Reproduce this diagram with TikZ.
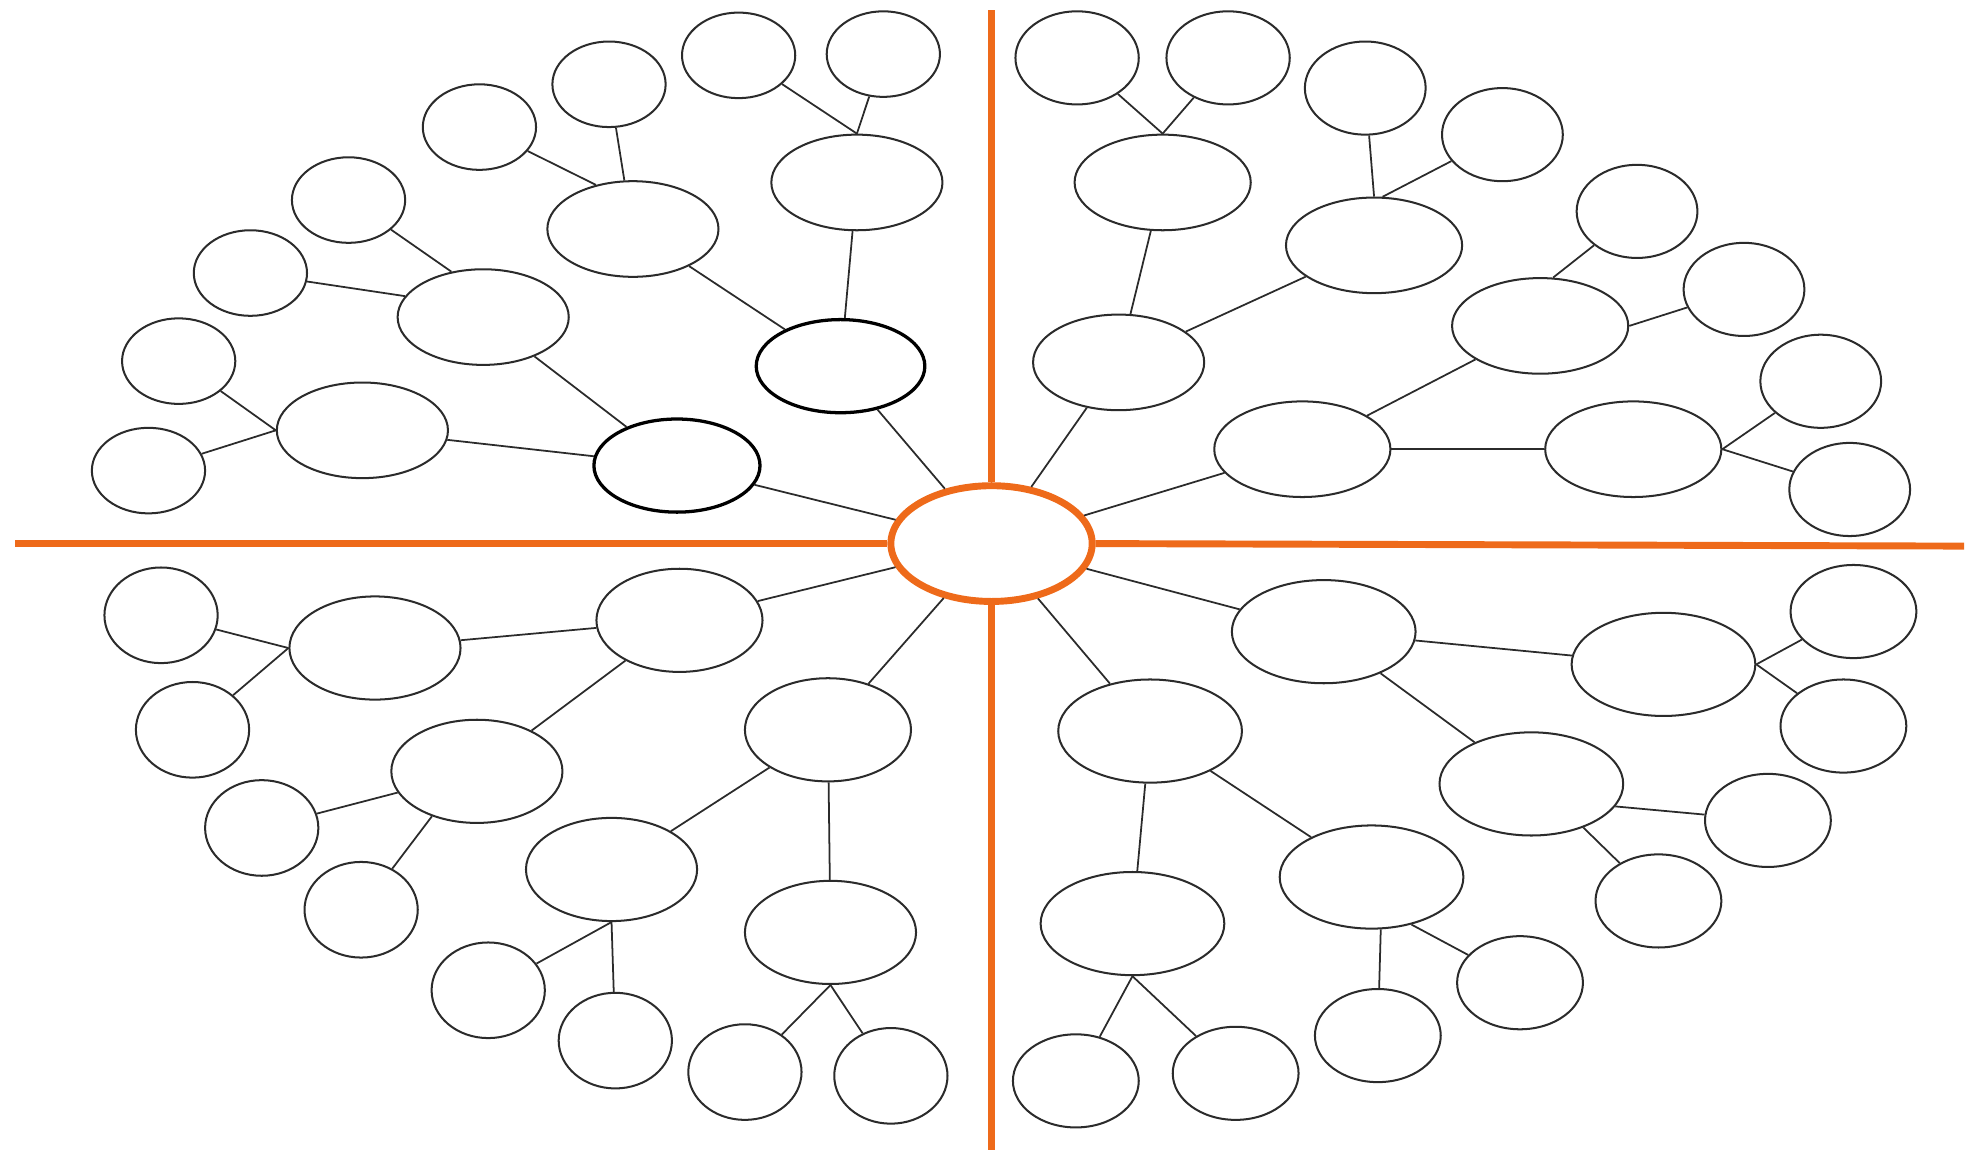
\documentclass[tikz,border=0pt]{standalone}
\usepackage{tikz}
\usetikzlibrary{shapes.geometric}
\definecolor{mOrange}{HTML}{EE6A1A}
\definecolor{mInk}{HTML}{2B2B2B}
\begin{document}
\begin{tikzpicture}[x=1pt, y=-1pt,
  bub/.style 2 args={draw=mInk, ellipse, inner sep=0pt, line width=1.6pt,
    minimum width=#1pt, minimum height=#2pt},
  heavy/.style={line width=2.6pt, draw=black},
  link/.style={draw=mInk, line width=1.4pt},
  axis/.style={draw=mOrange, line width=5.5pt}]
  \useasboundingbox (0,0) rectangle (1568,917);
  % centre and axes
  \node[bub={160}{92}, draw=mOrange, line width=5.5pt] (c) at (788,432) {};
  \coordinate (tN) at (788,8);
  \coordinate (tS) at (788,914);
  \coordinate (tW) at (12,432);
  \coordinate (tE) at (1561,434);
  \draw[axis] (c.north) -- (tN);
  \draw[axis] (c.south) -- (tS);
  \draw[axis] (c.west) -- (tW);
  \draw[axis] (c.east) -- (tE);
  % top left
  \node[bub={132}{74}, heavy] (a1) at (538,370) {};
  \node[bub={134}{74}, heavy] (a2) at (668,291) {};
  \node[bub={136}{76}] (b1) at (384,252) {};
  \node[bub={136}{76}] (b2) at (288,342) {};
  \node[bub={136}{76}] (b3) at (681,145) {};
  \node[bub={136}{76}] (b4) at (503,182) {};
  \node[bub={90}{68}] (l1) at (587,44) {};
  \node[bub={90}{68}] (l2) at (702,43) {};
  \node[bub={90}{68}] (l3) at (484,67) {};
  \node[bub={90}{68}] (l4) at (381,101) {};
  \node[bub={90}{68}] (l5) at (277,159) {};
  \node[bub={90}{68}] (l6) at (199,217) {};
  \node[bub={90}{68}] (l7) at (142,287) {};
  \node[bub={90}{68}] (l8) at (118,374) {};
  \draw[link] (c) -- (a1);
  \draw[link] (c) -- (a2);
  \draw[link] (a1) -- (b1);
  \draw[link] (a1) -- (b2);
  \draw[link] (a2) -- (b3);
  \draw[link] (a2) -- (b4);
  \draw[link] (b3.north) -- (l1);
  \draw[link] (b3.north) -- (l2);
  \draw[link] (b4.100) -- (l3);
  \draw[link] (b4.130) -- (l4);
  \draw[link] (b1.125) -- (l5);
  \draw[link] (b1.165) -- (l6);
  \draw[link] (b2.west) -- (l7);
  \draw[link] (b2.west) -- (l8);
  % top right
  \node[bub={136}{76}] (c1) at (889,288) {};
  \node[bub={140}{76}] (c2) at (1035,357) {};
  \node[bub={140}{76}] (d1) at (924,145) {};
  \node[bub={140}{76}] (d2) at (1092,195) {};
  \node[bub={140}{76}] (d3) at (1224,259) {};
  \node[bub={140}{76}] (d4) at (1298,357) {};
  \node[bub={98}{74}] (m1) at (856,46) {};
  \node[bub={98}{74}] (m2) at (976,46) {};
  \node[bub={96}{74}] (m3) at (1085,70) {};
  \node[bub={96}{74}] (m4) at (1194,107) {};
  \node[bub={96}{74}] (m5) at (1301,168) {};
  \node[bub={96}{74}] (m6) at (1386,230) {};
  \node[bub={96}{74}] (m7) at (1447,303) {};
  \node[bub={96}{74}] (m8) at (1470,389) {};
  \draw[link] (c) -- (c1);
  \draw[link] (c) -- (c2);
  \draw[link] (c1) -- (d1);
  \draw[link] (c1) -- (d2);
  \draw[link] (c2) -- (d3);
  \draw[link] (c2) -- (d4);
  \draw[link] (d1.north) -- (m1);
  \draw[link] (d1.north) -- (m2);
  \draw[link] (d2.north) -- (m3);
  \draw[link] (d2.80) -- (m4);
  \draw[link] (d3.75) -- (m5);
  \draw[link] (d3.east) -- (m6);
  \draw[link] (d4.east) -- (m7);
  \draw[link] (d4.east) -- (m8);
  % bottom left
  \node[bub={132}{82}] (e1) at (540,493) {};
  \node[bub={132}{82}] (e2) at (658,580) {};
  \node[bub={136}{82}] (f1) at (298,515) {};
  \node[bub={136}{82}] (f2) at (379,613) {};
  \node[bub={136}{82}] (f3) at (486,691) {};
  \node[bub={136}{82}] (f4) at (660,741) {};
  \node[bub={90}{76}] (n1) at (128,489) {};
  \node[bub={90}{76}] (n2) at (153,580) {};
  \node[bub={90}{76}] (n3) at (208,658) {};
  \node[bub={90}{76}] (n4) at (287,723) {};
  \node[bub={90}{76}] (n5) at (388,787) {};
  \node[bub={90}{76}] (n6) at (489,827) {};
  \node[bub={90}{76}] (n7) at (592,852) {};
  \node[bub={90}{76}] (n8) at (708,855) {};
  \draw[link] (c) -- (e1);
  \draw[link] (c) -- (e2);
  \draw[link] (e1) -- (f1);
  \draw[link] (e1) -- (f2);
  \draw[link] (e2) -- (f3);
  \draw[link] (e2) -- (f4);
  \draw[link] (f1.west) -- (n1);
  \draw[link] (f1.west) -- (n2);
  \draw[link] (f2.195) -- (n3);
  \draw[link] (f2.225) -- (n4);
  \draw[link] (f3.south) -- (n5);
  \draw[link] (f3.south) -- (n6);
  \draw[link] (f4.south) -- (n7);
  \draw[link] (f4.south) -- (n8);
  % bottom right
  \node[bub={146}{82}] (g1) at (914,581) {};
  \node[bub={146}{82}] (g2) at (1052,502) {};
  \node[bub={146}{82}] (h1) at (900,734) {};
  \node[bub={146}{82}] (h2) at (1090,697) {};
  \node[bub={146}{82}] (h3) at (1322,528) {};
  \node[bub={146}{82}] (h4) at (1217,623) {};
  \node[bub={100}{74}] (p1) at (855,859) {};
  \node[bub={100}{74}] (p2) at (982,853) {};
  \node[bub={100}{74}] (p3) at (1095,823) {};
  \node[bub={100}{74}] (p4) at (1208,781) {};
  \node[bub={100}{74}] (p5) at (1473,486) {};
  \node[bub={100}{74}] (p6) at (1465,577) {};
  \node[bub={100}{74}] (p7) at (1405,652) {};
  \node[bub={100}{74}] (p8) at (1318,716) {};
  \draw[link] (c) -- (g1);
  \draw[link] (c) -- (g2);
  \draw[link] (g1) -- (h1);
  \draw[link] (g1) -- (h2);
  \draw[link] (g2) -- (h3);
  \draw[link] (g2) -- (h4);
  \draw[link] (h1.south) -- (p1);
  \draw[link] (h1.south) -- (p2);
  \draw[link] (h2.-80) -- (p3);
  \draw[link] (h2.-50) -- (p4);
  \draw[link] (h3.east) -- (p5);
  \draw[link] (h3.east) -- (p6);
  \draw[link] (h4.-15) -- (p7);
  \draw[link] (h4.-40) -- (p8);
\end{tikzpicture}
\end{document}
